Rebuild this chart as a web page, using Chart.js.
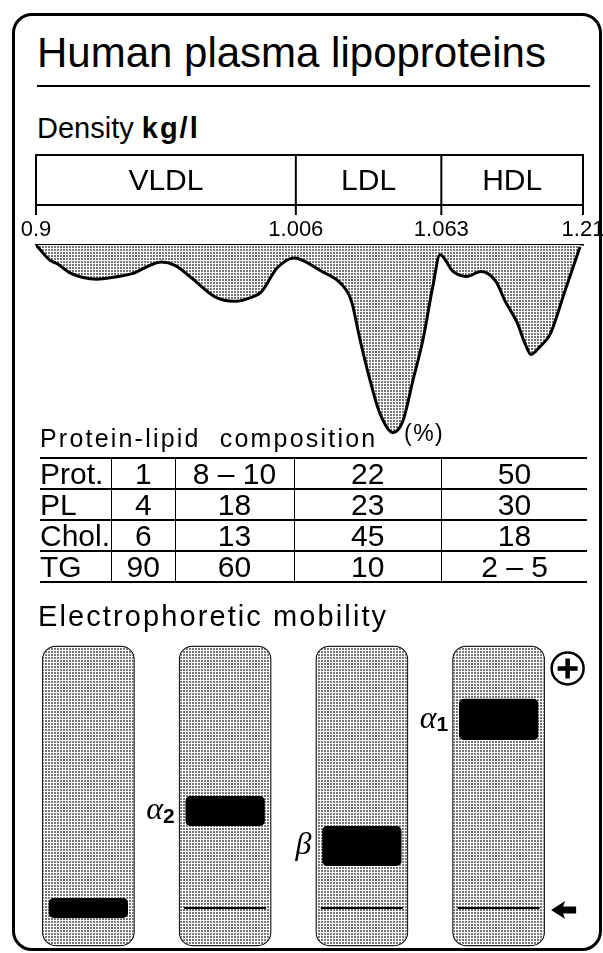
<!DOCTYPE html>
<html>
<head>
<meta charset="utf-8">
<script src="https://cdn.jsdelivr.net/npm/chart.js@4.4.1/dist/chart.umd.min.js"></script>
<style>
  html, body { margin: 0; padding: 0; width: 603px; height: 953px; overflow: hidden; background: #fff; }
  body { position: relative; font-family: "Liberation Sans", Arial, sans-serif; color: #000; }
  .card { position: absolute; left: 12px; top: 13px; width: 584px; height: 932px; border: 3px solid #000; border-radius: 20px; }
  .txt { position: absolute; white-space: nowrap; line-height: 1; z-index: 2; }
  #title { left: 37px; top: 32px; font-size: 42px; }
  #rule { position: absolute; left: 37px; top: 85px; width: 553px; height: 2px; background: #000; }
  #density { left: 37px; top: 114px; font-size: 29px; }
  #density b { letter-spacing: 2px; }
  #comp-title { left: 40px; top: 425.5px; font-size: 25px; letter-spacing: 2.2px; word-spacing: 10px; }
  #pct { left: 404px; top: 422px; font-size: 23px; letter-spacing: 1.5px; }
  #electro { left: 38px; top: 602px; font-size: 29px; letter-spacing: 2.1px; }
  #comp { position: absolute; left: 40px; top: 457px; width: 547px; border-collapse: collapse; table-layout: fixed; font-size: 30px; z-index: 2; }
  #comp td { height: 29px; line-height: 29px; padding: 0; text-align: center; border-top: 2px solid #000; border-bottom: 2px solid #000; }
  #comp td + td { border-left: 1.5px solid #000; }
  #comp td:first-child { text-align: left; }
  #densityCanvas { position: absolute; left: 0; top: 150px; }
  #laneCanvas { position: absolute; left: 0; top: 630px; }
</style>
</head>
<body>
<div class="card"></div>
<div class="txt" id="title">Human plasma lipoproteins</div>
<div id="rule"></div>
<div class="txt" id="density">Density <b>kg/l</b></div>
<div class="txt" id="comp-title">Protein-lipid composition</div>
<div class="txt" id="pct">(%)</div>
<table id="comp">
  <colgroup><col style="width:71.5px"><col style="width:63.5px"><col style="width:119px"><col style="width:147.5px"><col style="width:145.5px"></colgroup>
</table>
<div class="txt" id="electro">Electrophoretic mobility</div>
<canvas id="densityCanvas" width="620" height="300"></canvas>
<canvas id="laneCanvas" width="603" height="323"></canvas>
<script>
// Density classes and axis
const densityClasses = ['VLDL', 'LDL', 'HDL'];
const densityLabels = ['0.9', '1.006', '1.063', '1.21'];
const boundaryPos = [0, 47.5, 74.1, 100]; // position of each density mark along the axis (%)

// Density profile (x: % along axis, y: relative amount)
const profileX = [0, 2.56, 4.02, 6.22, 8.59, 11.15, 14.44, 17.73, 20.84, 22.94, 25.41, 28.52, 32.72, 36.31, 39.12, 41.22, 44.06, 47.17, 51.74, 56.8, 57.71, 59.23, 61.06, 62.89, 65.27, 67.09, 68.92, 70.75, 72.58, 73.86, 76.23, 78.74, 81.35, 84.1, 85.74, 87.93, 89.4, 90.49, 92.14, 93.97, 96.71, 99.45];
const profileY = [0, 15, 19, 27.5, 32, 33.7, 31.5, 28, 20, 16.7, 20, 32.7, 51, 55.4, 52, 46, 22.7, 12.7, 24.4, 45, 56, 93, 133, 166, 184.7, 173, 133, 93, 39.7, 9.7, 26, 31, 26, 36, 55, 76, 97, 107.7, 100, 88, 45, 2];

// Composition table
const rowLabels = ['Prot.', 'PL', 'Chol.', 'TG'];
const chylo = ['1', '4', '6', '90'];
const vldl = ['8 – 10', '18', '13', '60'];
const ldl = ['22', '23', '45', '10'];
const hdl = ['50', '30', '18', '2 – 5'];

// Electrophoresis (mobility relative to the origin)
const lanes = ['Chylomicrons', 'VLDL', 'LDL', 'HDL'];
const laneSpan = [-12.8, 87.5];
const bandLow = [-3.3, 27.3, 14, 56];
const bandHigh = [3.3, 37.3, 27.3, 69.7];
const bandSymbol = ['', 'α', 'β', 'α'];
const bandSub = ['', '2', '', '1'];

const table = document.getElementById('comp');
rowLabels.forEach((lab, r) => {
  const tr = document.createElement('tr');
  [lab, chylo[r], vldl[r], ldl[r], hdl[r]].forEach(v => {
    const td = document.createElement('td');
    td.textContent = v;
    tr.appendChild(td);
  });
  table.appendChild(tr);
});

const stipple = () => {
  const c = document.createElement('canvas');
  c.width = 3; c.height = 3;
  const g = c.getContext('2d');
  g.fillStyle = '#fff'; g.fillRect(0, 0, 3, 3);
  g.fillStyle = '#777'; g.fillRect(0, 0, 2, 2);
  return g.createPattern(c, 'repeat');
};

const densityBox = {
  id: 'densityBox',
  afterDraw(chart) {
    const { ctx, chartArea, scales: { x } } = chart;
    const top = chartArea.top - 90, bottom = chartArea.top - 40, tickEnd = chartArea.top - 30;
    const xs = boundaryPos.map(v => x.getPixelForValue(v));
    ctx.save();
    ctx.strokeStyle = '#000';
    ctx.lineWidth = 2;
    ctx.strokeRect(xs[0], top, xs[3] - xs[0], bottom - top);
    xs.forEach(px => {
      ctx.beginPath();
      ctx.moveTo(px, top);
      ctx.lineTo(px, tickEnd);
      ctx.stroke();
    });
    ctx.fillStyle = '#000';
    ctx.font = '30px "Liberation Sans"';
    ctx.textAlign = 'center';
    densityClasses.forEach((c, i) => ctx.fillText(c, (xs[i] + xs[i + 1]) / 2, top + 35));
    ctx.restore();
  }
};

new Chart(document.getElementById('densityCanvas'), {
  type: 'line',
  data: {
    datasets: [{
      data: profileX.map((v, i) => ({ x: v, y: profileY[i] })),
      borderColor: '#000',
      borderWidth: 3,
      backgroundColor: stipple(),
      fill: 'origin',
      pointRadius: 0,
      cubicInterpolationMode: 'monotone'
    }]
  },
  options: {
    responsive: false,
    animation: false,
    layout: { padding: { left: 36, right: 37, top: 64.6, bottom: 15 } },
    plugins: { legend: { display: false }, tooltip: { enabled: false } },
    scales: {
      x: {
        type: 'linear',
        position: 'top',
        min: 0,
        max: 100,
        afterBuildTicks: scale => { scale.ticks = boundaryPos.map(v => ({ value: v })); },
        ticks: {
          autoSkip: false,
          maxRotation: 0,
          padding: 2,
          color: '#000',
          font: { family: 'Liberation Sans', size: 22 },
          callback: (value, index) => densityLabels[index]
        },
        grid: { display: false, drawTicks: false },
        border: { display: true, color: '#000', width: 1.5 }
      },
      y: { display: false, reverse: true, min: 0, max: 187 }
    }
  },
  plugins: [densityBox]
});

const laneMarks = {
  id: 'laneMarks',
  afterDraw(chart) {
    const { ctx, scales: { y } } = chart;
    const laneMeta = chart.getDatasetMeta(0);
    ctx.save();
    ctx.fillStyle = '#000';
    ctx.textBaseline = 'middle';
    lanes.forEach((l, i) => {
      if (!bandSymbol[i]) return;
      const bar = laneMeta.data[i];
      let right = bar.x - bar.width / 2 - 4;
      const cy = y.getPixelForValue((bandLow[i] + bandHigh[i]) / 2);
      if (bandSub[i]) {
        ctx.font = 'bold 21px "Liberation Sans"';
        ctx.textAlign = 'right';
        ctx.fillText(bandSub[i], right, cy + 6);
        right -= ctx.measureText(bandSub[i]).width;
      }
      ctx.font = 'italic 32px "Liberation Serif"';
      ctx.textAlign = 'right';
      ctx.fillText(bandSymbol[i], right, cy);
    });
    // anode sign and origin arrow
    const last = laneMeta.data[lanes.length - 1];
    const cx = last.x + last.width / 2 + 22.5;
    const cy = y.getPixelForValue(laneSpan[1]) + 23;
    ctx.lineWidth = 2.5;
    ctx.strokeStyle = '#000';
    ctx.beginPath();
    ctx.arc(cx, cy, 16, 0, Math.PI * 2);
    ctx.stroke();
    ctx.lineWidth = 4.5;
    ctx.beginPath();
    ctx.moveTo(cx - 10, cy); ctx.lineTo(cx + 10, cy);
    ctx.moveTo(cx, cy - 10); ctx.lineTo(cx, cy + 10);
    ctx.stroke();
    const ay = y.getPixelForValue(0) + 2;
    const ax = last.x + last.width / 2 + 6;
    ctx.beginPath();
    ctx.moveTo(ax, ay);
    ctx.lineTo(ax + 14, ay - 9);
    ctx.lineTo(ax + 12, ay - 3.5);
    ctx.lineTo(ax + 25, ay - 3.5);
    ctx.lineTo(ax + 25, ay + 3.5);
    ctx.lineTo(ax + 12, ay + 3.5);
    ctx.lineTo(ax + 14, ay + 9);
    ctx.closePath();
    ctx.fill();
    ctx.restore();
  }
};

new Chart(document.getElementById('laneCanvas'), {
  type: 'bar',
  data: {
    labels: lanes,
    datasets: [
      {
        data: lanes.map(() => laneSpan),
        backgroundColor: stipple(),
        borderColor: '#222',
        borderWidth: 1.5,
        borderRadius: 14,
        borderSkipped: false,
        barPercentage: 0.68,
        categoryPercentage: 1,
        grouped: false,
        order: 3
      },
      {
        data: lanes.map((l, i) => i === 0 ? null : [-0.3, 0.3]),
        backgroundColor: '#000',
        borderWidth: 0,
        barPercentage: 0.6,
        categoryPercentage: 1,
        grouped: false,
        order: 2
      },
      {
        data: bandLow.map((v, i) => [v, bandHigh[i]]),
        backgroundColor: '#000',
        borderWidth: 0,
        borderRadius: 5,
        borderSkipped: false,
        barPercentage: 0.58,
        categoryPercentage: 1,
        grouped: false,
        order: 1
      }
    ]
  },
  options: {
    responsive: false,
    animation: false,
    layout: { padding: { left: 20, right: 36, top: 13, bottom: 3 } },
    plugins: { legend: { display: false }, tooltip: { enabled: false } },
    scales: {
      x: { display: false },
      y: { display: false, min: -14, max: 88.3 }
    }
  },
  plugins: [laneMarks]
});
</script>
</body>
</html>
